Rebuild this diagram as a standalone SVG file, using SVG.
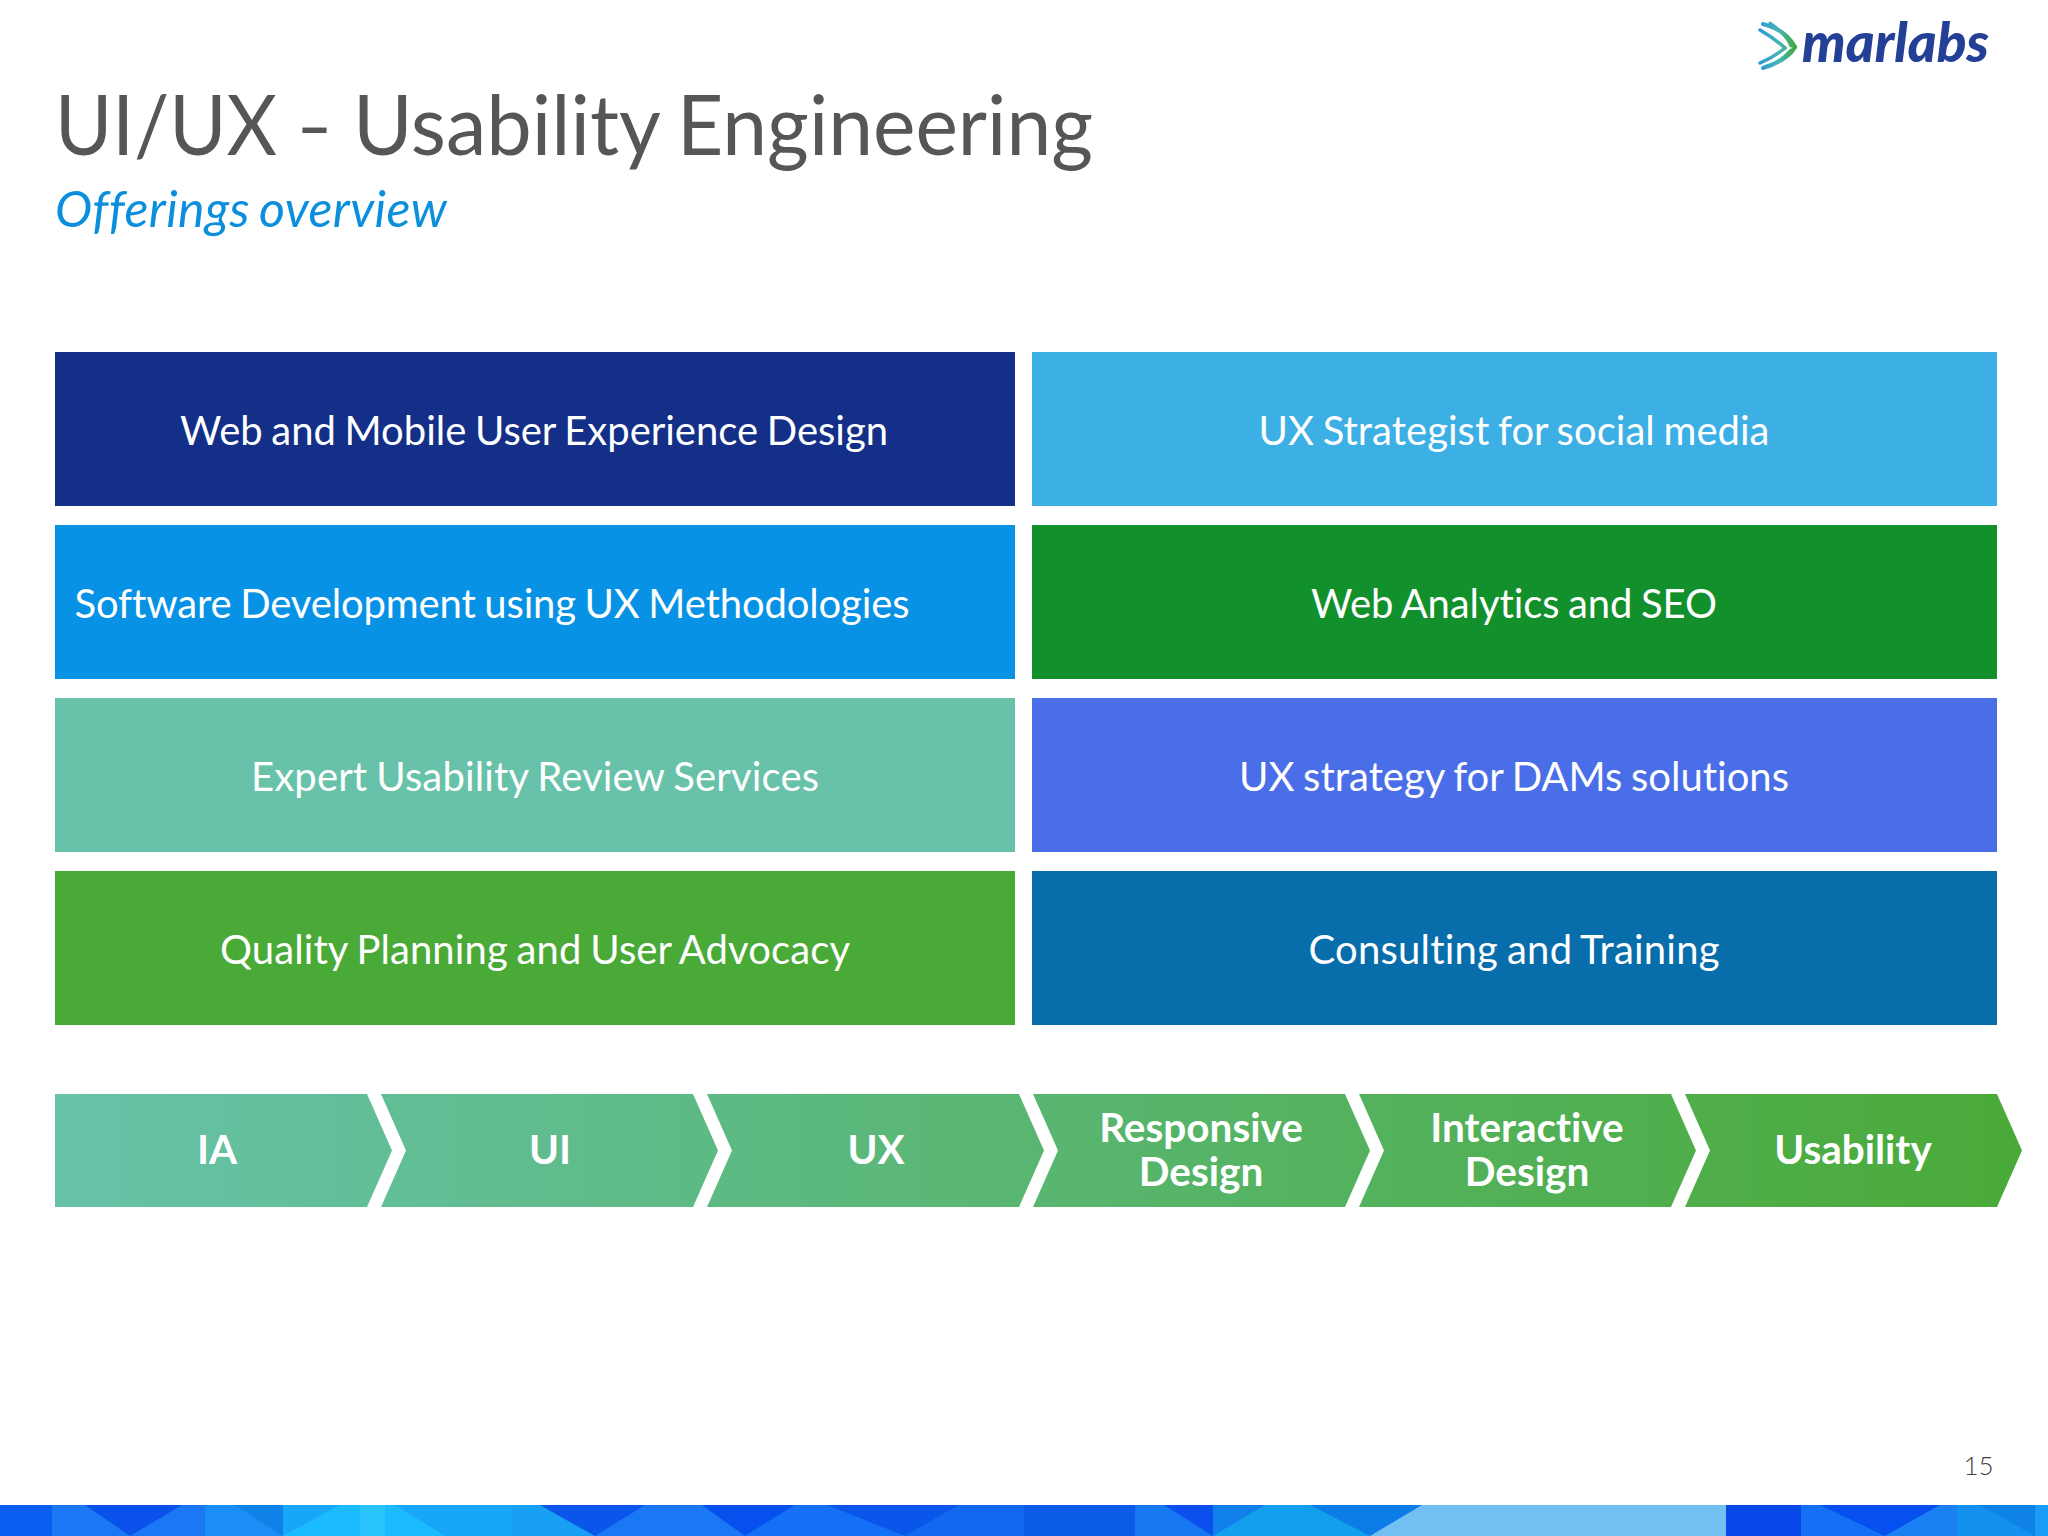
<svg xmlns="http://www.w3.org/2000/svg" width="2048" height="1536" viewBox="0 0 2048 1536">
<style>
text{font-family:Lato,"Liberation Sans",sans-serif;font-variant-ligatures:none}
.b{font-size:40px;fill:#fff;text-anchor:middle;word-spacing:-1.5px}
.c{font-size:40.500px;font-weight:700;fill:#fff;text-anchor:middle}
.u{fill:none;stroke-linecap:round}
</style>
<defs>
<linearGradient id="g" gradientUnits="userSpaceOnUse" x1="54" y1="0" x2="2022" y2="0"><stop offset="0" stop-color="#67c2a9"/><stop offset="1" stop-color="#4aaa38"/></linearGradient>
<linearGradient id="lg" gradientUnits="userSpaceOnUse" x1="1760" y1="0" x2="1796" y2="0"><stop offset="0" stop-color="#2f9ad8"/><stop offset=".55" stop-color="#45b6b0"/><stop offset="1" stop-color="#3fa63c"/></linearGradient>
</defs>
<rect width="2048" height="1536" fill="#fff"/>
<g id="title">
<text y="155" font-size="84" fill="#565656"><tspan x="55" textLength="222" lengthAdjust="spacingAndGlyphs">UI/UX</tspan> <tspan x="297" textLength="35" lengthAdjust="spacingAndGlyphs">–</tspan> <tspan x="353" textLength="306" lengthAdjust="spacingAndGlyphs">Usability</tspan> <tspan x="677" textLength="416" lengthAdjust="spacingAndGlyphs">Engineering</tspan></text>
<text x="55" y="227" font-size="50" font-style="italic" fill="#0b8fdc" style="word-spacing:-3px" textLength="392">Offerings overview</text>
</g>
<g id="logo">
<g class="u" stroke="url(#lg)">
<path stroke-width="4" d="M1763 24Q1786 30 1795 47"/>
<path stroke-width="3.500" d="M1760 30Q1774 38 1785 48"/>
<path stroke-width="3" d="M1770 23Q1786 34 1791 46"/>
<path stroke-width="4" d="M1795 47Q1788 60 1763 68"/>
<path stroke-width="3.500" d="M1785 48Q1774 57 1760 63"/>
<path stroke-width="3" d="M1791 50Q1782 60 1770 66"/>
</g>
<text x="1802" y="62" font-size="56" font-weight="900" font-style="italic" fill="#233f96" textLength="187" lengthAdjust="spacingAndGlyphs">marlabs</text>
</g>
<g id="box-web-mobile"><rect x="55" y="352" width="960" height="154" fill="#132f87"/><text class="b" x="534" y="445" textLength="708">Web and Mobile User Experience Design</text></g>
<g id="box-software"><rect x="55" y="525" width="960" height="154" fill="#0892e6"/><text class="b" x="492" y="618" textLength="835">Software Development using UX Methodologies</text></g>
<g id="box-expert"><rect x="55" y="698" width="960" height="154" fill="#67c2a9"/><text class="b" x="535" y="791" textLength="568">Expert Usability Review Services</text></g>
<g id="box-quality"><rect x="55" y="871" width="960" height="154" fill="#4aaa38"/><text class="b" x="535" y="964" textLength="630">Quality Planning and User Advocacy</text></g>
<g id="box-strategist"><rect x="1032" y="352" width="965" height="154" fill="#3cb0e5"/><text class="b" x="1514" y="445" textLength="511">UX Strategist for social media</text></g>
<g id="box-analytics"><rect x="1032" y="525" width="965" height="154" fill="#12902c"/><text class="b" x="1514" y="618" textLength="406">Web Analytics and SEO</text></g>
<g id="box-dams"><rect x="1032" y="698" width="965" height="154" fill="#4a6ee8"/><text class="b" x="1514" y="791" textLength="550">UX strategy for DAMs solutions</text></g>
<g id="box-consulting"><rect x="1032" y="871" width="965" height="154" fill="#086dab"/><text class="b" x="1514" y="964" textLength="411">Consulting and Training</text></g>
<g id="chevrons" fill="url(#g)">
<g id="chev-ia"><path d="M55 1094H367L392 1150.500L367 1207H55Z"/><text class="c" x="217" y="1164">IA</text></g>
<g id="chev-ui"><path d="M381 1094H693L718 1150.500L693 1207H381L406 1150.500Z"/><text class="c" x="550" y="1164">UI</text></g>
<g id="chev-ux"><path d="M707 1094H1019L1044 1150.500L1019 1207H707L732 1150.500Z"/><text class="c" x="876" y="1164">UX</text></g>
<g id="chev-responsive"><path d="M1033 1094H1345L1370 1150.500L1345 1207H1033L1058 1150.500Z"/><text class="c" x="1201" y="1142">Responsive</text><text class="c" x="1201" y="1186">Design</text></g>
<g id="chev-interactive"><path d="M1359 1094H1671L1696 1150.500L1671 1207H1359L1384 1150.500Z"/><text class="c" x="1527" y="1142">Interactive</text><text class="c" x="1527" y="1186">Design</text></g>
<g id="chev-usability"><path d="M1685 1094H1997L2022 1150.500L1997 1207H1685L1710 1150.500Z"/><text class="c" x="1853" y="1164">Usability</text></g>
</g>
<text id="page" x="1978.500" y="1475" font-size="26" font-weight="300" fill="#404040" text-anchor="middle">15</text>
<g id="footer">
<rect y="1505" width="2048" height="31" fill="#1a78f4"/>
<rect y="1505" width="52" height="31" fill="#0b5ff0"/>
<path d="M85 1505H182L130 1536Z" fill="#0a50ea"/>
<rect x="205" y="1505" width="78" height="31" fill="#1a8ef4"/>
<path d="M235 1505H283V1536Z" fill="#0e82e6"/>
<rect x="283" y="1505" width="229" height="31" fill="#18a6fa"/>
<path d="M283 1536L340 1505H395L445 1536Z" fill="#1abcff"/>
<path d="M360 1505H385V1536H360Z" fill="#28c4fb"/>
<rect x="512" y="1505" width="28" height="31" fill="#18a0f4"/>
<path d="M512 1536L540 1505L595 1536Z" fill="#18a0f4"/>
<path d="M540 1505H645L595 1536Z" fill="#0a55ea"/>
<path d="M702 1505H795L745 1536Z" fill="#0650ee"/>
<rect x="795" y="1505" width="33" height="31" fill="#1470f6"/>
<path d="M745 1536L795 1505H828L905 1536Z" fill="#1470f6"/>
<path d="M827 1505H959L905 1536Z" fill="#0a55ea"/>
<path d="M905 1536L959 1505H1024V1536Z" fill="#1268ee"/>
<rect x="1024" y="1505" width="111" height="31" fill="#0c5cea"/>
<rect x="1135" y="1505" width="78" height="31" fill="#1578f0"/>
<path d="M1164 1505H1213V1536Z" fill="#0b50ee"/>
<path d="M1213 1505H1265L1213 1536Z" fill="#1280ea"/>
<path d="M1213 1536L1265 1505H1320L1370 1536Z" fill="#12a0ee"/>
<path d="M1310 1505H1422L1370 1536Z" fill="#0c7ce6"/>
<path d="M1422 1505H1726V1536H1370Z" fill="#72c0f2"/>
<rect x="1726" y="1505" width="75" height="31" fill="#0848e8"/>
<rect x="1801" y="1505" width="84" height="31" fill="#1470f5"/>
<path d="M1820 1505H1940L1885 1536Z" fill="#0650f0"/>
<rect x="1957" y="1505" width="78" height="31" fill="#1490ef"/>
<path d="M1885 1536L1940 1505H1957V1536Z" fill="#1a80f4"/>
<path d="M1980 1505H2035V1536Z" fill="#0e82e6"/>
<rect x="2035" y="1505" width="13" height="31" fill="#1a9cf8"/>
</g>
</svg>
